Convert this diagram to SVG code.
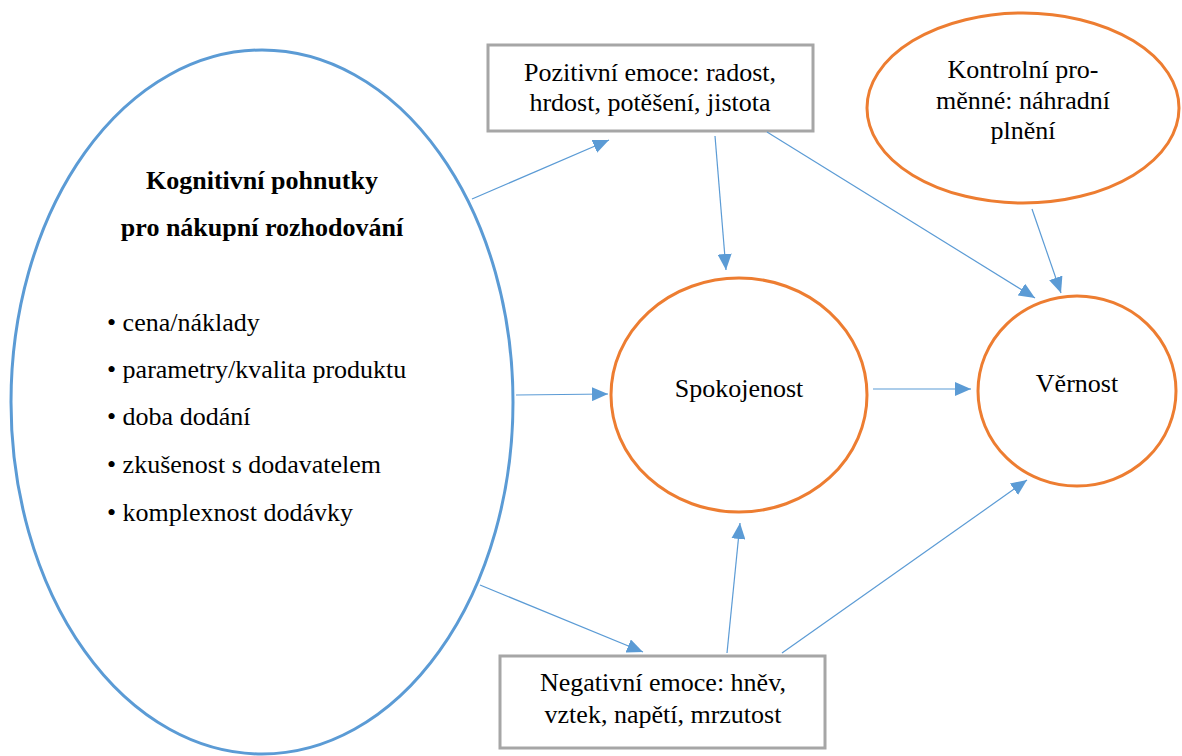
<svg xmlns="http://www.w3.org/2000/svg" width="1182" height="756" viewBox="0 0 1182 756" font-family="Liberation Serif, Times New Roman, serif">
<style>
text{font-size:26px;fill:#000}
.c{text-anchor:middle}
.b{font-weight:bold}
.blue{fill:#fff;stroke:#5b9bd5;stroke-width:3}
.orange{fill:#fff;stroke:#ed7d31;stroke-width:3}
.box{fill:#fff;stroke:#a6a6a6;stroke-width:3}
.edge{stroke:#5b9bd5;stroke-width:1.2;fill:none;marker-end:url(#ah)}
</style>
<defs>
<marker id="ah" markerUnits="userSpaceOnUse" markerWidth="16" markerHeight="14" refX="16" refY="7" orient="auto">
<path d="M0,0 L16,7 L0,14 Z" fill="#5b9bd5"/>
</marker>
</defs>
<rect width="1182" height="756" fill="#fff"/>
<g id="kognitivni">
<ellipse class="blue" cx="262" cy="402" rx="251" ry="352"/>
<text class="c b" x="262" y="189">Kognitivní pohnutky</text>
<text class="c b" x="262" y="236">pro nákupní rozhodování</text>
<text x="107" y="331">• cena/náklady</text>
<text x="107" y="378">• parametry/kvalita produktu</text>
<text x="107" y="425">• doba dodání</text>
<text x="107" y="473">• zkušenost s dodavatelem</text>
<text x="107" y="521">• komplexnost dodávky</text>
</g>
<g id="pozitivni">
<rect class="box" x="488" y="45" width="325" height="86"/>
<text class="c" x="650" y="81">Pozitivní emoce: radost,</text>
<text class="c" x="650" y="111">hrdost, potěšení, jistota</text>
</g>
<g id="kontrolni">
<ellipse class="orange" cx="1023" cy="108" rx="156" ry="95"/>
<text class="c" x="1023" y="78">Kontrolní pro-</text>
<text class="c" x="1023" y="109">měnné: náhradní</text>
<text class="c" x="1023" y="139">plnění</text>
</g>
<g id="spokojenost">
<ellipse class="orange" cx="739" cy="395" rx="128" ry="117"/>
<text class="c" x="739" y="397">Spokojenost</text>
</g>
<g id="vernost">
<ellipse class="orange" cx="1077" cy="391" rx="99" ry="95"/>
<text class="c" x="1077" y="392">Věrnost</text>
</g>
<g id="negativni">
<rect class="box" x="500" y="656" width="325" height="92"/>
<text class="c" x="663" y="691">Negativní emoce: hněv,</text>
<text class="c" x="663" y="723">vztek, napětí, mrzutost</text>
</g>
<g id="connectors">
<line class="edge" x1="472" y1="199" x2="609" y2="140"/>
<line class="edge" x1="715" y1="136" x2="726" y2="270"/>
<line class="edge" x1="767" y1="132" x2="1035" y2="298"/>
<line class="edge" x1="1032" y1="209" x2="1061" y2="293"/>
<line class="edge" x1="516" y1="395" x2="608" y2="394"/>
<line class="edge" x1="873" y1="389" x2="971" y2="389"/>
<line class="edge" x1="480" y1="585" x2="643" y2="652"/>
<line class="edge" x1="727" y1="653" x2="740" y2="523"/>
<line class="edge" x1="782" y1="653" x2="1027" y2="480"/>
</g>
</svg>
